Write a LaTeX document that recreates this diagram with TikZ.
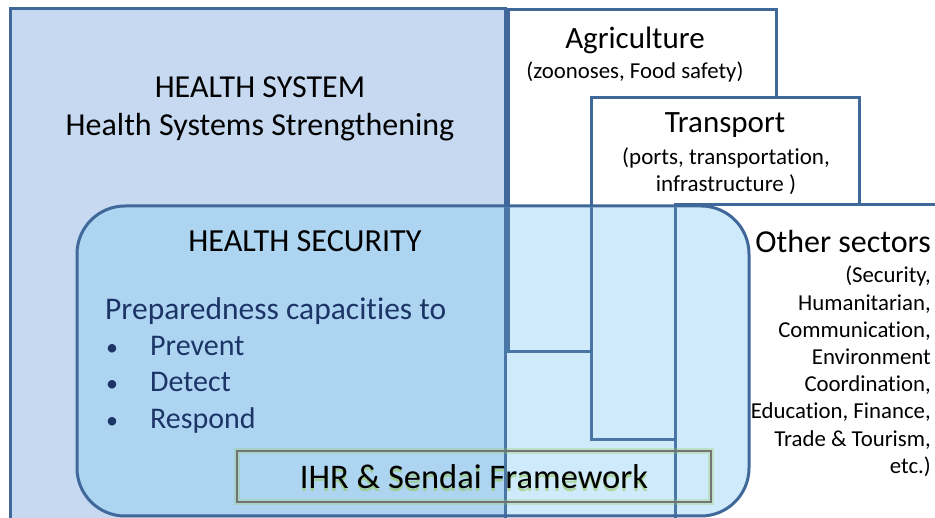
\documentclass[tikz,border=0pt]{standalone}
\usepackage{fontspec}
\setmainfont{Carlito}[Ligatures=NoCommon]
\definecolor{hsfill}{RGB}{198,217,240}
\definecolor{lineblue}{RGB}{64,104,154}
\definecolor{secfill}{RGB}{137,207,245}
\definecolor{navy}{RGB}{28,52,102}
\definecolor{glow}{RGB}{150,200,90}
\begin{document}
\begin{tikzpicture}[x=1pt,y=-1pt,
  frame/.style={draw=lineblue, line width=3pt},
  big/.style={font=\fontsize{32}{38}\selectfont, inner sep=0pt},
  small/.style={font=\fontsize{22.8}{27.2}\selectfont, inner sep=0pt},
  item/.style={font=\fontsize{30}{36}\selectfont, inner sep=0pt, text=navy, anchor=base west},
  dot/.style={font=\fontsize{24}{28}\selectfont, inner sep=0pt, text=navy, anchor=base}]
\useasboundingbox (0,0) rectangle (935,518);
\clip (0,0) rectangle (935,518);
\fill[white] (0,0) rectangle (935,518);
% sector boxes
\draw[frame, fill=hsfill] (10,9) rectangle (505,560);
\draw[frame, fill=white] (508,10) rectangle (776,352);
\draw[frame, fill=white] (591,98) rectangle (859,440);
\draw[frame, fill=white] (675,205) rectangle (980,560);
% health security
\fill[secfill, fill opacity=0.4, rounded corners=48pt] (77,206) rectangle (749,516);
% sector outlines seen through the health security layer
\draw[frame, draw opacity=0.65] (505,208) -- (505,520);
\draw[frame, draw opacity=0.65] (508,208) -- (508,352) -- (591,352);
\draw[frame, draw opacity=0.65] (591,208) -- (591,440) -- (675,440);
\draw[frame, draw opacity=0.65] (675,208) -- (675,520);
\draw[frame, rounded corners=48pt] (77,206) rectangle (749,516);
% IHR frame with glow
\draw[glow, line width=6pt, opacity=0.3] (237,451) rectangle (711,502);
\draw[gray!90!black, line width=1.2pt] (237,451) rectangle (711,502);
% texts
\node[big] (hs1) at (260,87) {HEALTH SYSTEM};
\node[big] (hs2) at (260,127) {Health Systems Strengthening};
\node[big, font=\fontsize{31}{37}\selectfont] (ag1) at (635,40) {Agriculture};
\node[small] (ag2) at (635,72) {(zoonoses, Food safety)};
\node[big, font=\fontsize{31}{37}\selectfont] (tr1) at (725,125) {Transport};
\node[small, font=\fontsize{23}{27}\selectfont] (tr2) at (726,158) {(ports, transportation,};
\node[small, font=\fontsize{23}{27}\selectfont] (tr3) at (726,185) {infrastructure )};
\node[big, anchor=east] (os1) at (931,242) {Other sectors};
\node[small, anchor=north east, align=right] (os2) at (931,266) {(Security,\\Humanitarian,\\Communication,\\Environment\\Coordination,\\Education, Finance,\\Trade \& Tourism,\\etc.)};
\node[big, font=\fontsize{32.2}{38}\selectfont] (sec) at (305,241) {HEALTH SECURITY};
\node[item, font=\fontsize{31.5}{37}\selectfont] (prep) at (105,320) {Preparedness capacities to};
\node[dot] (d1) at (112,356) {•};
\node[item] (i1) at (150,356) {Prevent};
\node[dot] (d2) at (112,392) {•};
\node[item] (i2) at (150,392) {Detect};
\node[dot] (d3) at (112,429) {•};
\node[item] (i3) at (150,429) {Respond};
\node[font=\fontsize{34.5}{40}\selectfont, inner sep=0pt, text=glow, text opacity=0.6] (ihrglow) at (474,479.5) {IHR \& Sendai Framework};
\node[font=\fontsize{34.5}{40}\selectfont, inner sep=0pt] (ihr) at (474,477) {IHR \& Sendai Framework};
\end{tikzpicture}
\end{document}
